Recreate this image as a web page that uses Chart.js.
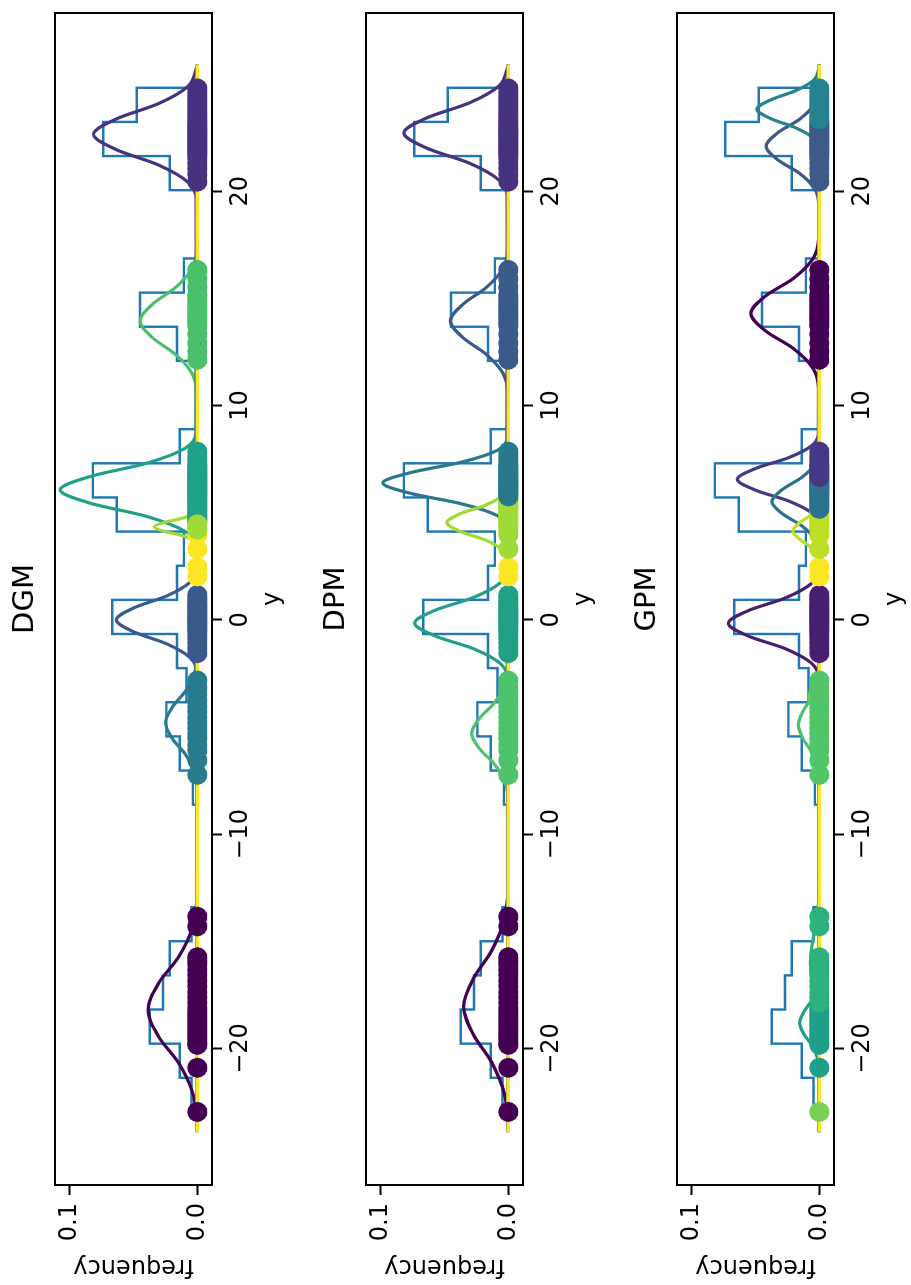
<!DOCTYPE html>
<html>
<head>
<meta charset="utf-8">
<script src="https://cdn.jsdelivr.net/npm/chart.js@4.4.1/dist/chart.umd.min.js"></script>
<style>
    html, body { margin: 0; padding: 0; background: #fff; overflow: hidden; width: 911px; height: 1285px; }
    /* the figure is laid out landscape and turned a quarter turn, like the reference */
    #stage {
        position: absolute; left: 0; top: 0;
        width: 1285px; height: 911px;
        transform-origin: 0 0;
        transform: translate(0, 1285px) rotate(-90deg);
    }
    #stage canvas { position: absolute; left: 0; }
</style>
</head>
<body>
<div id="stage">
    <canvas id="dgm" width="1285" height="311" style="top:0px"></canvas>
    <canvas id="dpm" width="1285" height="311" style="top:311px"></canvas>
    <canvas id="gpm" width="1285" height="311" style="top:622px"></canvas>
</div>
<script>
const FONT = 'DejaVu Sans';

// axis ranges
const Y_MIN = -26.37;
const Y_MAX = 28.32;
const FREQ_MIN = -0.0115;
const FREQ_MAX = 0.1117;

// histogram (30 bins between data min and max, density)
const HIST_MIN = -22.96;
const HIST_MAX = 24.83;
const histFreq = [0.0046, 0.0138, 0.0374, 0.0269, 0.0217, 0.0046, 0, 0, 0, 0.0035,
    0.0138, 0.0243, 0.0085, 0.016, 0.0668, 0.016, 0.0106, 0.0633, 0.082, 0.0138,
    0, 0, 0.016, 0.045, 0.0106, 0, 0, 0.0217, 0.0738, 0.0475];

// grid the component curves run over
const CURVE_MIN = -23.9;
const CURVE_MAX = 25.9;

// observed samples (drawn at frequency 0)
const samples = [
    -22.96, -20.9, -19.83, -19.76, -19.58, -19.44, -19.27, -19.12, -18.94, -18.79, -18.63, -18.47, -18.31,
    -18.12, -17.86, -17.62, -17.38, -17.09, -16.84, -16.57, -16.33, -16.08, -15.92, -15.74, -14.3, -13.85,
    -7.23, -6.55, -6.08, -5.83, -5.52, -5.31, -5.06, -4.82, -4.57, -4.29, -4.06, -3.78, -3.47, -3.18, -2.83,
    -1.55, -1.31, -1.07, -0.86, -0.67, -0.52, -0.41, -0.29, -0.18, -0.07, 0.04, 0.13, 0.24, 0.33, 0.45,
    0.56, 0.64, 0.77, 0.91, 1.02, 1.16,
    2.03, 2.46, 3.31, 3.97,
    4.21, 4.33, 4.46, 4.58, 4.66, 4.79, 4.88, 4.97, 5.09, 5.18, 5.27, 5.39, 5.48, 5.57, 5.66, 5.76, 5.84,
    5.93, 5.99, 6.07, 6.14, 6.22, 6.29, 6.36, 6.44, 6.52, 6.58, 6.67, 6.75, 6.84, 6.93, 7.02, 7.11, 7.19,
    7.27, 7.46, 7.63, 7.85,
    12.14, 12.52, 12.91, 13.33, 13.72, 13.86, 14.01, 14.12, 14.27, 14.41, 14.56, 14.69, 14.84, 15.02,
    15.17, 15.52, 15.91, 16.33,
    20.45, 20.79, 21.06, 21.31, 21.54, 21.69, 21.8, 21.91, 22.02, 22.11, 22.21, 22.3, 22.41, 22.52, 22.61,
    22.7, 22.79, 22.91, 23.01, 23.12, 23.22, 23.36, 23.49, 23.64, 23.79, 23.96, 24.11, 24.27, 24.43,
    24.61, 24.8
];

// DGM components
const dgmCurveX = [
    [-23.54, -22.12, -20.69, -19.45, -18.2, -16.95, -15.71, -14.28, -12.86],
    [-7.95, -7.11, -6.27, -5.54, -4.8, -4.07, -3.33, -2.49, -1.65],
    [-2.4, -1.76, -1.12, -0.56, 0, 0.56, 1.12, 1.76, 2.4],
    [3.43, 4.13, 4.84, 5.45, 6.07, 6.69, 7.3, 8.01, 8.71],
    [3.5, 3.72, 3.95, 4.14, 4.34, 4.54, 4.73, 4.96, 5.18],
    [10.59, 11.49, 12.38, 13.17, 13.95, 14.73, 15.52, 16.41, 17.31],
    [19.6, 20.42, 21.23, 21.95, 22.66, 23.37, 24.09, 24.9, 25.72]
];
const dgmCurveY = [
    [0.0004, 0.0034, 0.0145, 0.0303, 0.0387, 0.0303, 0.0145, 0.0034, 0.0004],
    [0.0003, 0.0022, 0.0094, 0.0196, 0.025, 0.0196, 0.0094, 0.0022, 0.0003],
    [0.0007, 0.0057, 0.0239, 0.0498, 0.0636, 0.0498, 0.0239, 0.0057, 0.0007],
    [0.0012, 0.0096, 0.0404, 0.0843, 0.1077, 0.0843, 0.0404, 0.0096, 0.0012],
    [0.0004, 0.003, 0.0128, 0.0266, 0.034, 0.0266, 0.0128, 0.003, 0.0004],
    [0.0005, 0.004, 0.0169, 0.0352, 0.045, 0.0352, 0.0169, 0.004, 0.0005],
    [0.0009, 0.0073, 0.0306, 0.0638, 0.0815, 0.0638, 0.0306, 0.0073, 0.0009]
];
const dgmCurveColors = ['#440154', '#297b8e', '#3a5a8c', '#20a087', '#a0da39', '#4bc06c', '#46327e'];
const dgmRanges = [[-30, -10], [-10, -2], [-2, 1.5], [1.5, 4.1], [4.55, 10], [4.1, 4.55], [10, 18], [18, 30]];
const dgmRangeColors = ['#440154', '#297b8e', '#3a5a8c', '#fde725', '#20a087', '#a0da39', '#4bc06c', '#46327e'];

// DPM components
const dpmCurveX = [
    [-23.59, -22.11, -20.63, -19.34, -18.04, -16.75, -15.45, -13.97, -12.49],
    [-8.39, -7.57, -6.74, -6.02, -5.3, -4.58, -3.86, -3.03, -2.21],
    [-2.7, -2.02, -1.34, -0.75, -0.15, 0.45, 1.04, 1.72, 2.4],
    [4.32, 4.87, 5.42, 5.91, 6.39, 6.87, 7.36, 7.91, 8.46],
    [2.8, 3.26, 3.73, 4.13, 4.54, 4.95, 5.35, 5.82, 6.28],
    [10.59, 11.49, 12.38, 13.17, 13.95, 14.73, 15.52, 16.41, 17.31],
    [19.72, 20.52, 21.32, 22.02, 22.72, 23.42, 24.12, 24.92, 25.72]
];
const dpmCurveY = [
    [0.0004, 0.0031, 0.0132, 0.0275, 0.0351, 0.0275, 0.0132, 0.0031, 0.0004],
    [0.0003, 0.0026, 0.0108, 0.0225, 0.0288, 0.0225, 0.0108, 0.0026, 0.0003],
    [0.0008, 0.0065, 0.0276, 0.0575, 0.0735, 0.0575, 0.0276, 0.0065, 0.0008],
    [0.0011, 0.0088, 0.0369, 0.077, 0.0984, 0.077, 0.0369, 0.0088, 0.0011],
    [0.0005, 0.0043, 0.0181, 0.0378, 0.0483, 0.0378, 0.0181, 0.0043, 0.0005],
    [0.0005, 0.004, 0.0171, 0.0356, 0.0455, 0.0356, 0.0171, 0.004, 0.0005],
    [0.0009, 0.0073, 0.0308, 0.0642, 0.082, 0.0642, 0.0308, 0.0073, 0.0009]
];
const dpmCurveColors = ['#440154', '#4ec36b', '#21a086', '#2a788e', '#a0da39', '#3a5a8c', '#46327e'];
const dpmRanges = [[-30, -10], [-10, -2], [-2, 1.5], [1.5, 2.8], [2.8, 5.7], [5.7, 10], [10, 18], [18, 30]];
const dpmRangeColors = ['#440154', '#4ec36b', '#21a086', '#fde725', '#a0da39', '#2a788e', '#3a5a8c', '#46327e'];

// GPM components
const gpmCurveX = [
    [-21.05, -20.45, -19.85, -19.33, -18.8, -18.28, -17.75, -17.15, -16.55],
    [-19.9, -18.86, -17.82, -16.91, -16.0, -15.09, -14.18, -13.14, -12.1],
    [-7.6, -6.88, -6.16, -5.53, -4.9, -4.27, -3.64, -2.92, -2.2],
    [-5.25, -4.81, -4.37, -3.99, -3.6, -3.22, -2.83, -2.39, -1.95],
    [-2.68, -2.01, -1.34, -0.75, -0.16, 0.43, 1.02, 1.69, 2.36],
    [4.4, 4.98, 5.55, 6.06, 6.56, 7.06, 7.57, 8.14, 8.72],
    [3.12, 3.76, 4.4, 4.96, 5.52, 6.08, 6.64, 7.28, 7.92],
    [2.65, 3.05, 3.45, 3.8, 4.15, 4.5, 4.85, 5.25, 5.65],
    [10.79, 11.73, 12.66, 13.48, 14.3, 15.12, 15.94, 16.87, 17.81],
    [19.4, 20.12, 20.84, 21.47, 22.1, 22.73, 23.36, 24.08, 24.8],
    [21.97, 22.47, 22.96, 23.4, 23.83, 24.26, 24.7, 25.19, 25.69]
];
const gpmCurveY = [
    [0.0002, 0.0014, 0.0058, 0.0121, 0.0155, 0.0121, 0.0058, 0.0014, 0.0002],
    [0.0001, 0.0006, 0.0026, 0.0055, 0.007, 0.0055, 0.0026, 0.0006, 0.0001],
    [0.0002, 0.0015, 0.0062, 0.0129, 0.0165, 0.0129, 0.0062, 0.0015, 0.0002],
    [0.0001, 0.0007, 0.003, 0.0063, 0.008, 0.0063, 0.003, 0.0007, 0.0001],
    [0.0008, 0.0064, 0.0268, 0.0559, 0.0714, 0.0559, 0.0268, 0.0064, 0.0008],
    [0.0007, 0.0057, 0.0241, 0.0503, 0.0643, 0.0503, 0.0241, 0.0057, 0.0007],
    [0.0004, 0.0033, 0.014, 0.0292, 0.0373, 0.0292, 0.014, 0.0033, 0.0004],
    [0.0002, 0.0018, 0.0078, 0.0162, 0.0207, 0.0162, 0.0078, 0.0018, 0.0002],
    [0.0006, 0.0048, 0.0202, 0.0421, 0.0538, 0.0421, 0.0202, 0.0048, 0.0006],
    [0.0005, 0.0037, 0.0156, 0.0326, 0.0417, 0.0326, 0.0156, 0.0037, 0.0005],
    [0.0005, 0.0044, 0.0184, 0.0384, 0.049, 0.0384, 0.0184, 0.0044, 0.0005]
];
const gpmCurveColors = ['#1f9e89', '#2db27d', '#4ac16d', '#6ece58', '#481f70', '#443a83', '#2c728e',
    '#bddf26', '#440154', '#3e5a8b', '#26828e'];
const gpmRanges = [[-30, -22], [-22, -18], [-18, -10], [-10, -2], [-2, 1.5], [1.5, 2.8], [2.8, 5.1],
    [5.1, 6.6], [6.6, 10], [10, 18], [18, 23.3], [23.3, 30]];
const gpmRangeColors = ['#7ad151', '#1f9e89', '#2db27d', '#52c569', '#481f70', '#fde725', '#bddf26',
    '#2c728e', '#443a83', '#440154', '#3e5a8b', '#26828e'];

const panels = [
    { id: 'dgm', title: 'DGM', curveX: dgmCurveX, curveY: dgmCurveY, curveColors: dgmCurveColors, ranges: dgmRanges, rangeColors: dgmRangeColors },
    { id: 'dpm', title: 'DPM', curveX: dpmCurveX, curveY: dpmCurveY, curveColors: dpmCurveColors, ranges: dpmRanges, rangeColors: dpmRangeColors },
    { id: 'gpm', title: 'GPM', curveX: gpmCurveX, curveY: gpmCurveY, curveColors: gpmCurveColors, ranges: gpmRanges, rangeColors: gpmRangeColors }
];

// box around the plotting area
const framePlugin = {
    id: 'frame',
    afterDatasetsDraw(chart) {
        const { ctx, chartArea: a } = chart;
        ctx.save();
        ctx.strokeStyle = '#000';
        ctx.lineWidth = 2;
        ctx.strokeRect(a.left, a.top, a.right - a.left, a.bottom - a.top);
        ctx.restore();
    }
};

function formatY(value) {
    return value < 0 ? '\u2212' + Math.abs(value) : String(value);
}

function histogramPoints() {
    const n = histFreq.length;
    const width = (HIST_MAX - HIST_MIN) / n;
    const pts = [{ x: HIST_MIN, y: 0 }];
    histFreq.forEach((f, k) => pts.push({ x: HIST_MIN + k * width, y: f }));
    pts.push({ x: HIST_MAX, y: 0 });
    return pts;
}

function buildDatasets(panel) {
    const sets = [];
    sets.push({
        data: histogramPoints(), showLine: true, stepped: true,
        borderColor: '#1f77b4', borderWidth: 2.4, pointRadius: 0, order: 100
    });
    panel.curveX.forEach((xs, i) => {
        const pts = [{ x: CURVE_MIN, y: 0 }]
            .concat(xs.map((x, j) => ({ x: x, y: panel.curveY[i][j] })))
            .concat([{ x: CURVE_MAX, y: 0 }]);
        sets.push({
            data: pts, showLine: true, cubicInterpolationMode: 'monotone',
            borderColor: panel.curveColors[i], borderWidth: 3.2, pointRadius: 0, order: 90 - i
        });
    });
    sets.push({
        data: [{ x: CURVE_MIN, y: 0 }, { x: CURVE_MAX, y: 0 }], showLine: true,
        borderColor: '#fde725', borderWidth: 3.5, pointRadius: 0, order: 60
    });
    panel.ranges.forEach(([lo, hi], g) => {
        const pts = samples.filter(v => v >= lo && v < hi).map(v => ({ x: v, y: 0 }));
        sets.push({
            data: pts, showLine: false, pointRadius: 10, pointBorderWidth: 0,
            pointBackgroundColor: panel.rangeColors[g], pointBorderColor: panel.rangeColors[g],
            order: 40 - g
        });
    });
    return sets;
}

function axisTicks(step, callback) {
    return {
        stepSize: step, includeBounds: false, autoSkip: false,
        maxRotation: 0, minRotation: 0, color: '#000',
        font: { family: FONT, size: 24 }, callback: callback
    };
}

const tickGrid = { drawOnChartArea: false, drawTicks: true, tickLength: 10, tickWidth: 2, tickColor: '#000' };

function buildChart(panel) {
    const ctx = document.getElementById(panel.id).getContext('2d');
    return new Chart(ctx, {
        type: 'scatter',
        data: { datasets: buildDatasets(panel) },
        options: {
            responsive: false,
            animation: false,
            events: [],
            layout: { padding: { left: 0, right: 13, top: 0, bottom: 0 } },
            plugins: {
                legend: { display: false },
                tooltip: { enabled: false },
                title: { display: false }
            },
            scales: {
                x: {
                    type: 'linear', min: Y_MIN, max: Y_MAX,
                    afterFit: scale => { scale.height = 99; },
                    border: { display: false },
                    grid: tickGrid,
                    ticks: Object.assign(axisTicks(10, v => formatY(v)), { padding: 4 }),
                    title: {
                        display: true, text: 'y', color: '#000',
                        font: { family: FONT, size: 24 }, padding: { top: 0, bottom: 24 }
                    }
                },
                // top axis only carries the panel title, centred over the plot area
                top: {
                    type: 'linear', position: 'top', min: Y_MIN, max: Y_MAX,
                    afterFit: scale => { scale.height = 55; },
                    border: { display: false },
                    grid: { display: false },
                    ticks: { display: false },
                    title: {
                        display: true, text: panel.title, color: '#000',
                        font: { family: FONT, size: 29 }, padding: { top: 8, bottom: 0 }
                    }
                },
                y: {
                    type: 'linear', min: FREQ_MIN, max: FREQ_MAX,
                    afterFit: scale => { scale.width = 100; },
                    border: { display: false },
                    grid: tickGrid,
                    ticks: Object.assign(axisTicks(0.1, v => Number(v).toFixed(1)), { padding: 8 }),
                    title: {
                        display: true, text: 'frequency', color: '#000',
                        font: { family: FONT, size: 24 }, padding: { top: 4, bottom: 0 }
                    }
                }
            }
        },
        plugins: [framePlugin]
    });
}

panels.forEach(buildChart);
</script>
</body>
</html>
